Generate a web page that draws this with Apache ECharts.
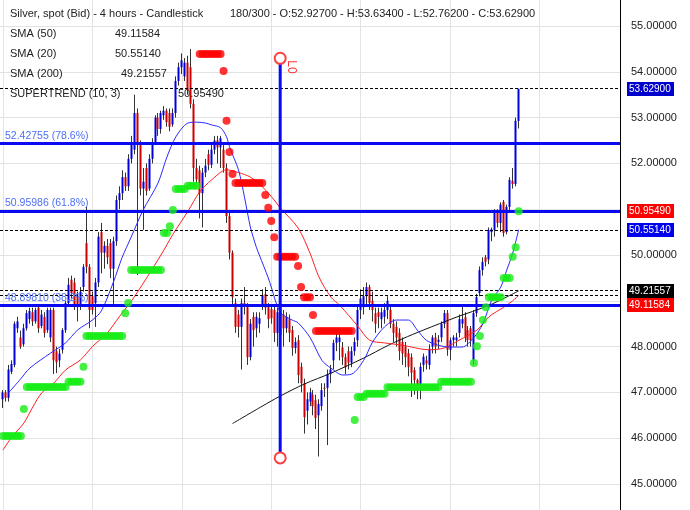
<!DOCTYPE html>
<html><head><meta charset="utf-8">
<script src="https://cdn.jsdelivr.net/npm/echarts@6/dist/echarts.min.js"></script>
<style>html,body{margin:0;padding:0;background:#fff}#c{width:690px;height:510px}</style>
</head><body><div id="c"></div>
<script>
// ---------- candle data (bar index 0..173) ----------
const openP = [
46.85,47.00,46.88,47.45,47.60,48.40,48.20,48.05,48.40,48.60,
48.75,48.55,48.85,48.45,48.65,48.36,48.20,48.80,47.90,47.70,
47.93,48.36,48.95,49.46,49.40,49.10,48.90,49.30,50.26,49.74,
49.10,48.95,49.40,50.50,50.05,50.20,50.26,49.70,50.30,51.20,
51.35,51.70,51.50,52.10,52.30,53.10,52.40,51.45,51.90,51.45,
52.10,52.45,53.00,52.75,53.05,53.15,53.10,52.85,53.10,53.80,
54.10,53.90,54.20,54.10,53.30,51.90,51.85,51.35,51.80,52.20,
51.97,52.30,52.50,52.35,52.30,51.90,50.85,50.05,48.95,48.70,
48.43,48.95,48.86,47.77,48.65,48.40,48.50,48.90,49.15,48.86,
48.82,48.80,48.30,48.90,48.70,48.40,48.60,48.36,47.97,48.14,
47.56,47.20,46.60,46.80,46.95,46.83,46.50,46.70,47.10,47.10,
47.40,47.70,48.08,48.10,47.98,47.77,47.90,47.65,47.90,48.14,
48.80,48.86,49.10,49.30,49.00,48.73,48.75,48.60,48.65,48.80,
48.80,48.50,48.43,48.30,48.10,48.00,47.86,47.77,47.49,47.27,
47.17,47.60,47.70,47.60,48.00,48.20,48.10,48.20,48.50,48.73,
47.93,48.14,48.14,48.30,48.50,48.64,48.36,48.40,47.70,48.73,
49.17,49.67,49.95,49.90,50.50,50.55,50.94,50.70,51.16,50.50,
51.05,51.62,51.55,52.927];
const closeP = [
47.00,46.88,47.50,47.62,48.50,48.55,48.00,48.40,48.73,48.78,
48.55,48.80,48.40,48.70,48.30,48.80,48.80,47.70,47.66,47.85,
48.36,48.95,49.35,49.17,48.90,48.86,49.20,49.74,49.74,48.80,
48.80,49.40,50.40,50.05,50.20,49.95,49.70,50.30,51.20,51.35,
51.70,51.50,52.10,52.45,53.10,52.40,51.45,51.60,51.40,52.10,
52.45,53.00,52.75,53.10,53.15,52.90,52.80,53.10,53.80,54.10,
54.25,54.20,53.60,53.30,51.90,51.65,51.35,51.80,51.95,51.97,
52.30,52.50,52.35,52.55,51.90,50.85,50.05,49.08,48.43,48.43,
48.95,48.88,47.77,48.50,48.36,48.65,48.62,49.12,48.85,48.60,
48.62,48.30,48.75,48.25,48.40,48.65,48.30,47.97,48.10,47.38,
47.20,46.46,46.85,47.00,46.70,46.44,46.75,47.05,47.08,47.40,
47.50,48.08,48.20,48.20,47.77,47.55,47.65,47.90,48.10,48.80,
49.05,49.10,49.30,48.95,48.80,48.50,48.65,48.75,48.80,49.00,
48.50,48.30,48.20,47.90,47.85,47.77,47.56,47.43,47.27,47.16,
47.56,47.78,47.63,47.95,48.20,48.00,48.15,48.50,48.73,47.93,
48.14,48.20,48.20,48.60,48.60,48.20,48.14,48.14,48.73,49.08,
49.67,49.85,49.85,50.55,50.56,50.92,50.70,51.10,50.48,51.05,
51.64,51.55,52.93,53.629];
const lowP = [
46.66,46.80,46.80,47.40,47.55,48.30,47.95,48.00,48.35,48.50,
48.45,48.50,48.30,48.40,48.20,48.30,48.10,47.40,47.42,47.55,
47.85,48.30,48.90,49.05,48.80,48.55,48.80,49.20,49.60,48.40,
48.70,48.43,49.30,49.60,49.70,49.80,49.50,48.90,50.20,51.00,
51.20,51.40,51.40,52.00,52.20,49.56,51.30,50.55,51.30,51.40,
52.00,52.40,52.60,52.65,52.95,52.80,52.70,52.80,53.00,53.70,
53.95,53.80,53.50,53.20,51.60,51.55,50.80,50.60,51.70,51.85,
51.90,52.20,52.00,51.90,51.80,50.70,49.90,48.90,48.30,48.20,
47.50,48.70,47.60,47.70,48.00,48.20,48.30,48.80,48.70,48.40,
48.50,48.10,48.00,47.45,48.00,48.30,48.10,47.80,47.85,47.20,
47.00,46.10,46.30,46.70,46.50,46.20,45.60,46.60,46.90,45.85,
47.20,47.50,47.90,47.70,47.60,47.40,47.50,47.55,47.80,48.00,
48.60,48.70,48.90,48.80,48.55,48.30,48.40,48.40,48.50,48.60,
48.40,48.10,48.00,47.70,47.60,47.55,47.35,46.90,46.95,46.85,
46.85,47.45,47.50,47.50,47.85,47.85,47.95,48.10,48.40,47.80,
47.70,48.00,48.00,48.20,48.40,48.10,48.00,48.00,47.60,48.65,
49.10,49.55,49.75,49.80,50.30,50.40,50.60,50.50,50.40,50.45,
50.95,51.45,51.50,52.762];
const highP = [
47.05,47.05,47.60,47.70,48.55,48.65,48.35,48.50,48.80,48.85,
48.85,48.85,48.90,48.80,48.75,48.85,48.85,48.85,48.00,47.95,
48.40,49.00,49.50,49.55,49.50,49.20,49.30,49.80,51.05,49.80,
49.20,49.50,50.50,50.70,50.30,50.35,50.35,50.40,51.30,51.50,
51.85,51.80,52.20,52.60,53.50,53.20,52.50,51.90,52.00,52.20,
52.55,53.05,53.10,53.15,53.25,53.20,53.20,53.20,53.90,54.20,
54.40,54.30,54.35,54.50,53.40,52.10,51.95,51.90,52.10,52.30,
52.45,52.60,52.60,52.60,52.40,52.00,50.95,50.10,49.05,48.80,
49.05,49.30,48.95,48.60,48.75,48.75,48.75,49.25,49.30,48.95,
48.90,48.90,48.85,49.00,48.80,48.75,48.70,48.45,48.20,48.25,
47.65,47.30,47.00,47.10,47.05,46.95,46.85,47.20,47.20,47.50,
47.60,48.15,48.30,48.35,48.10,47.85,48.00,48.00,48.20,48.90,
49.25,49.30,49.40,49.35,49.20,48.85,48.85,48.85,48.95,49.10,
48.90,48.60,48.55,48.40,48.20,48.10,47.95,47.85,47.55,47.30,
47.65,47.85,47.80,48.05,48.25,48.30,48.25,48.55,48.80,48.80,
48.20,48.25,48.30,48.70,48.90,48.75,48.45,48.45,48.80,49.15,
49.75,49.95,50.00,50.60,50.60,51.00,51.00,51.15,51.20,51.10,
51.70,51.90,53.00,53.634];

// ---------- indicators: [bar index, value] ----------
const sma20 = [[2,47.0],[6,47.3],[9,47.53],[16,47.86],[21,48.08],[25,48.36],[30,48.58],[33,48.78],[37,49.4],[40,49.95],[43,50.39],[47,50.98],[52,51.57],[55,52.14],[58,52.58],[62,52.88],[65,52.9],[68,52.88],[70,52.84],[73,52.78],[75,52.58],[76,52.36],[79,51.86],[81,51.27],[83,50.61],[85,50.17],[86,50.0],[89,49.5],[90,49.3],[93,48.75],[97,48.58],[99,48.52],[103,48.2],[107,47.7],[110,47.53],[114,47.38],[117,47.4],[121,47.7],[124,48.1],[128,48.43],[132,48.58],[136,48.58],[139,48.36],[142,48.14],[146,48.03],[150,47.99],[154,47.99],[158,48.2],[161,48.5],[164,49.02],[167,49.3],[169,49.67],[171,50.04],[173,50.5514]];
const sma50 = [[0,45.74],[3,46.03],[7,46.33],[10,46.68],[13,46.99],[17,47.2],[21,47.49],[26,47.71],[30,48.0],[35,48.3],[39,48.65],[44,49.08],[53,50.0],[57,50.45],[62,50.95],[66,51.38],[70,51.64],[75,51.86],[79,51.8],[83,51.7],[87,51.49],[91,51.2],[93,51.03],[99,50.59],[103,50.04],[106,49.52],[110,49.08],[113,48.9],[119,48.45],[123,48.14],[128,48.08],[134,48.03],[143,47.93],[148,47.97],[153,48.14],[159,48.36],[163,48.65],[168,48.86],[171,49.0],[173,49.11584]];
const sma200 = [[77,46.32],[87,46.70],[93,46.92],[101,47.18],[110,47.42],[121,47.75],[129,48.02],[134,48.17],[141,48.36],[152,48.64],[163,48.90],[173,49.21557]];
// supertrend runs: [firstBar, lastBar, value]
const stUp = [[0,6,46.05],[7,7,46.64],[8,21,47.12],[22,26,47.23],[27,27,47.56],[28,40,48.23],[41,41,48.73],[42,42,48.95],[43,53,49.67],[54,55,50.48],[56,56,50.63],[57,57,50.98],[58,61,51.44],[62,65,51.51],[118,118,46.40],[119,121,46.90],[122,128,46.97],[129,146,47.11],[147,157,47.23],[158,158,47.64],[159,159,48.01],[160,160,48.23],[161,161,48.58],[162,162,48.86],[163,167,49.08],[168,170,49.50],[171,171,49.96],[172,172,50.17],[173,173,50.9549]];
const stDown = [[66,73,54.39],[74,74,54.02],[75,75,52.93],[76,76,52.25],[77,77,51.77],[78,87,51.57],[88,88,51.31],[89,89,51.03],[90,90,50.74],[91,91,50.39],[92,98,49.96],[99,99,49.76],[100,100,49.30],[101,103,49.08],[104,104,48.69],[105,117,48.34]];

// fibonacci levels
const fibValues = [52.42755, 50.95986, 48.89810];
const fibNames = ['78.6%', '61.8%', '38.2%'];
// dashed reference lines
const dashedValues = [53.629, 50.5514, 49.21557, 49.11584];
// right-axis value tags
const tagValues = [53.629, 50.9549, 50.5514, 49.21557, 49.11584];
const tagColors = ['#0000cc', '#ff0000', '#0000ee', '#000000', '#ff0000'];
// vertical drawing tool "L0"
const loBar = 93, loTop = 54.295, loBottom = 45.57;
// legend texts
const titleText = 'Silver, spot (Bid) - 4 hours - Candlestick';
const infoText = '180/300 - O:52.92700 - H:53.63400 - L:52.76200 - C:53.62900';
const legendNames = ['SMA (50)', 'SMA (20)', 'SMA (200)', 'SUPERTREND (10, 3)'];
const legendValues = ['49.11584', '50.55140', '49.21557', '50.95490'];
const yTicks = {min: 44, max: 56, step: 1};

const SLOTS = 209;   // bar slots on the time axis (right part empty)
const X0 = 1;        // first slot left blank
const FONT = "'Liberation Sans', Arial, sans-serif";
const BLUE = '#0000dd', RED = '#cc0000';

const cats = Array.from({length: SLOTS}, (_, k) => String(k));
const candleData = openP.map((o, i) => [i + X0, o, closeP[i], lowP[i], highP[i]]);
const toPts = arr => arr.map(([i, v]) => [i + X0, v]);
function expand(runs) {
  const out = [];
  runs.forEach(([a, b, v]) => { for (let i = a; i <= b; i++) out.push([i + X0, v]); });
  return out;
}

const chart = echarts.init(document.getElementById('c'), null, {renderer: 'canvas'});

const legendGraphics = [];
legendGraphics.push({type: 'text', x: 10, y: 14, z: 1, style: {text: titleText, font: '11px ' + FONT, fill: '#222', verticalAlign: 'middle'}});
legendGraphics.push({type: 'text', x: 230, y: 14, z: 1, style: {text: infoText, font: '11px ' + FONT, fill: '#222', verticalAlign: 'middle'}});
const legValX = [115, 115, 121, 178];
legendNames.forEach((n, k) => {
  legendGraphics.push({type: 'text', x: 10, y: 34 + 20 * k, z: 1, style: {text: n, font: '11px ' + FONT, fill: '#222', verticalAlign: 'middle'}});
  legendGraphics.push({type: 'text', x: legValX[k], y: 34 + 20 * k, z: 1, style: {text: legendValues[k], font: '11px ' + FONT, fill: '#222', verticalAlign: 'middle'}});
});
legendGraphics.push({type: 'text', x: 291, y: 67, rotation: -Math.PI / 2, z: 20, style: {text: 'L0', font: '12px ' + FONT, fill: '#ff3333', align: 'center', verticalAlign: 'middle'}});

const option = {
  animation: false,
  backgroundColor: '#ffffff',
  grid: {left: 0, right: 70, top: -19.8, bottom: -19.8, containLabel: false, outerBoundsMode: 'none'},
  graphic: legendGraphics,
  xAxis: {
    type: 'category', data: cats, boundaryGap: false,
    axisLine: {show: false}, axisTick: {show: false}, axisLabel: {show: false},
    splitLine: {show: true, interval: (idx) => idx % 30 === 1, lineStyle: {color: '#e3e3e3', width: 1}}
  },
  yAxis: {
    type: 'value', position: 'right', min: yTicks.min, max: yTicks.max, interval: yTicks.step,
    axisLine: {show: true, lineStyle: {color: '#000', width: 1}},
    axisTick: {show: false},
    axisLabel: {
      color: '#222', fontSize: 11, fontFamily: FONT, margin: 11,
      formatter: v => tagValues.some(t => Math.abs(t - v) < 0.2) ? '' : v.toFixed(5)
    },
    splitLine: {show: true, lineStyle: {color: '#e3e3e3', width: 1}}
  },
  series: [
    { // fib + dashed lines host
      type: 'line', data: [], z: 1, silent: true,
      markLine: {
        silent: true, symbol: 'none', animation: false,
        data: fibValues.map((v, k) => ({
          yAxis: v,
          lineStyle: {color: '#0a0af2', width: 3, type: 'solid'},
          label: {show: true, position: 'insideStartTop', distance: [5, 2], formatter: v.toFixed(5) + ' (' + fibNames[k] + ')', color: '#4d6ff5', fontSize: 10.5, fontFamily: FONT}
        })).concat(dashedValues.map(v => ({
          yAxis: v,
          lineStyle: {color: '#000', width: 1, type: [3, 2]},
          label: {show: false}
        })))
      }
    },
    { // candles
      type: 'custom', z: 3,
      encode: {x: 0, y: [1, 2, 3, 4]},
      data: candleData,
      renderItem: (params, api) => {
        const j = api.value(0), o = api.value(1), c = api.value(2), l = api.value(3), h = api.value(4);
        const pO = api.coord([j, o]), pC = api.coord([j, c]), pL = api.coord([j, l]), pH = api.coord([j, h]);
        const cx = Math.floor(pO[0]);
        const top = Math.min(pO[1], pC[1]), bot = Math.max(pO[1], pC[1]);
        return {type: 'group', children: [
          {type: 'line', shape: {x1: cx + 0.5, y1: pH[1], x2: cx + 0.5, y2: pL[1]}, style: {stroke: '#333', lineWidth: 1}},
          {type: 'rect', shape: {x: cx - 0.5, y: top, width: 2, height: Math.max(1, bot - top)}, style: {fill: c >= o ? BLUE : RED}}
        ]};
      }
    },
    {type: 'line', name: 'SMA (200)', data: toPts(sma200), showSymbol: false, smooth: 0.3, z: 4, lineStyle: {color: '#111', width: 1}},
    {type: 'line', name: 'SMA (50)', data: toPts(sma50), showSymbol: false, smooth: 0.3, z: 4, lineStyle: {color: '#ff2020', width: 1}},
    {type: 'line', name: 'SMA (20)', data: toPts(sma20), showSymbol: false, smooth: 0.3, z: 4, lineStyle: {color: '#2a2aff', width: 1}},
    {type: 'scatter', name: 'ST up', data: expand(stUp), symbolSize: 8, z: 5, itemStyle: {color: '#14ec14'}},
    {type: 'scatter', name: 'ST down', data: expand(stDown), symbolSize: 8, z: 5, itemStyle: {color: '#ff0000'}},
    { // L0 vertical tool
      type: 'line', data: [[loBar + X0, loTop], [loBar + X0, loBottom]], z: 6,
      symbol: 'emptyCircle', symbolSize: 11, showSymbol: true, showAllSymbol: true,
      lineStyle: {color: '#0a0af2', width: 3},
      itemStyle: {color: '#ff4040', borderColor: '#ff4040', borderWidth: 1.5}
    },
    { // right axis value tags
      type: 'custom', z: 10, clip: false,
      data: tagValues.map(v => [X0, v]),
      renderItem: (params, api) => {
        const ys = tagValues.map(v => api.coord([X0, v])[1]);
        const order = ys.map((y, k) => k).sort((a, b) => ys[a] - ys[b]);
        const pos = ys.slice();
        for (let n = 1; n < order.length; n++) {
          const a = order[n - 1], b = order[n];
          if (pos[b] - pos[a] < 14) pos[b] = pos[a] + 14;
        }
        const k = params.dataIndex;
        const rx = params.coordSys.x + params.coordSys.width;
        return {type: 'group', children: [
          {type: 'rect', shape: {x: rx + 7, y: Math.round(pos[k]) - 7, width: 47, height: 14}, style: {fill: tagColors[k]}},
          {type: 'text', style: {x: rx + 9, y: Math.round(pos[k]) + 0.5, text: tagValues[k].toFixed(5), fill: '#fff', font: '10px ' + FONT, align: 'left', verticalAlign: 'middle'}}
        ]};
      }
    }
  ]
};
chart.setOption(option);
</script>
</body></html>
